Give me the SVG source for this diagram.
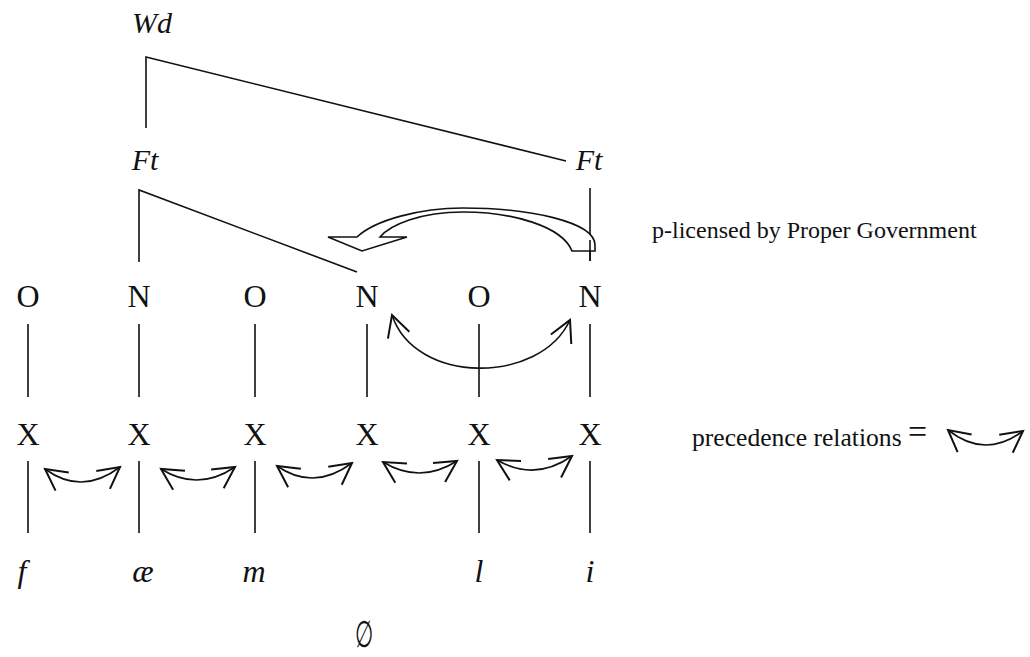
<svg xmlns="http://www.w3.org/2000/svg" width="1030" height="657" viewBox="0 0 1030 657">
  <style>
    .lbl { font-family: "Liberation Serif", "Times New Roman", serif; fill: #111; }
    .seg { font-size: 32px; text-anchor: middle; }
    .it { font-style: italic; font-size: 30px; text-anchor: middle; }
    .itl { font-style: italic; font-size: 32px; text-anchor: middle; }
    .note { font-size: 24px; }
    .ln { stroke: #111; stroke-width: 1.6; fill: none; }
    .arc { stroke: #111; stroke-width: 1.6; fill: none; marker-start: url(#vh); marker-end: url(#vh); }
    .big { stroke: #111; stroke-width: 1.6; fill: #fff; stroke-linejoin: miter; }
  </style>
  <defs>
    <marker id="vh" markerUnits="userSpaceOnUse" markerWidth="30" markerHeight="30" refX="0" refY="0" viewBox="-20 -12 24 24" orient="auto-start-reverse" overflow="visible">
      <path d="M -17 -9 L 0 0 L -17 9" fill="none" stroke="#111" stroke-width="1.6"/>
    </marker>
  </defs>
  <rect width="1030" height="657" fill="#fff"/>

  <g id="connectors">
    <path class="ln" d="M 146 128 L 146 57 L 566 161"/>
    <path class="ln" d="M 139 262 L 139 190 L 357 272"/>
    <path class="ln" d="M 590 188 L 590 261"/>
    <path class="ln" d="M 28 324 V 397 M 139 324 V 397 M 255 324 V 397 M 367 324 V 397 M 479 324 V 397 M 590 324 V 397"/>
    <path class="ln" d="M 28 461 V 533 M 139 461 V 533 M 255 461 V 533 M 479 461 V 533 M 590 461 V 533"/>
    <path class="arc" d="M 45 469 Q 82 496 120 467"/>
    <path class="arc" d="M 161 469 Q 198 492 235 467"/>
    <path class="arc" d="M 277 466 Q 314 491.5 352 463"/>
    <path class="arc" d="M 383 462 Q 420 484.5 457 461"/>
    <path class="arc" d="M 497 460 Q 535 482 572 456"/>
    <path class="arc" d="M 392 315 C 415 385, 540 385, 570 320"/>
    <path class="arc" d="M 948 430 Q 985 459.5 1023 431"/>
    <path class="big" d="M 595 251 L 572 251 C 562 226, 512 212, 463 212 C 420 212, 390 225, 380 237 L 407 237 L 362 251 L 328 237 L 357 237 C 375 220, 420 208, 463 208 C 530 208, 595 222, 595 245 Z"/>
    <path class="ln" d="M 590 240 V 261"/>
  </g>

  <g id="Wd"><text class="lbl it" x="152" y="33">Wd</text></g>
  <g id="Ft1"><text class="lbl it" x="145" y="170">Ft</text></g>
  <g id="Ft2"><text class="lbl it" x="589" y="170">Ft</text></g>

  <g id="O1"><text class="lbl seg" x="28" y="307">O</text></g>
  <g id="N1"><text class="lbl seg" x="139" y="307">N</text></g>
  <g id="O2"><text class="lbl seg" x="255" y="307">O</text></g>
  <g id="N2"><text class="lbl seg" x="367" y="307">N</text></g>
  <g id="O3"><text class="lbl seg" x="479" y="307">O</text></g>
  <g id="N3"><text class="lbl seg" x="590" y="307">N</text></g>

  <g id="X1"><text class="lbl seg" x="28" y="445">X</text></g>
  <g id="X2"><text class="lbl seg" x="139" y="445">X</text></g>
  <g id="X3"><text class="lbl seg" x="255" y="445">X</text></g>
  <g id="X4"><text class="lbl seg" x="367" y="445">X</text></g>
  <g id="X5"><text class="lbl seg" x="479" y="445">X</text></g>
  <g id="X6"><text class="lbl seg" x="590" y="445">X</text></g>

  <g id="s1"><text class="lbl itl" x="22" y="582">f</text></g>
  <g id="s2"><text class="lbl itl" x="143" y="582">æ</text></g>
  <g id="s3"><text class="lbl itl" x="254" y="582">m</text></g>
  <g id="s4"><text class="lbl itl" x="479" y="582">l</text></g>
  <g id="s5"><text class="lbl itl" x="590" y="582">i</text></g>
  <g id="empty"><text class="lbl seg" transform="translate(364 647) scale(0.65 1.15)" x="0" y="0">∅</text></g>

  <g id="note-pg"><text class="lbl note" x="652" y="238">p-licensed by Proper Government</text></g>
  <g id="legend">
    <text class="lbl note" x="692" y="446" style="font-size:25.6px">precedence relations</text>
    <text class="lbl" x="908" y="443" style="font-size:34px">=</text>
  </g>
</svg>
